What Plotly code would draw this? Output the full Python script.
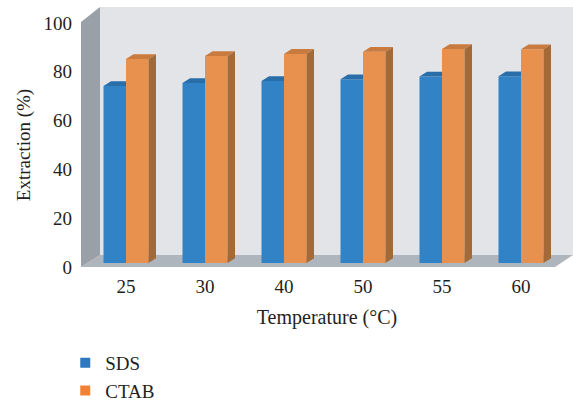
import plotly.graph_objects as go

# ---- data ----
temperatures = ["25", "30", "40", "50", "55", "60"]
sds = [72.5, 73.8, 74.6, 75.3, 76.4, 76.5]
ctab = [83.6, 84.8, 85.7, 86.6, 87.7, 87.6]
y_ticks = [0, 20, 40, 60, 80, 100]

# ---- geometry (pixels of the 573x402 canvas) ----
W, H = 573, 402
L, R, T, B = 81, 0, 23, 135          # plot area: x 81..573, y 23..267
PW = W - L - R
PH = H - T - B
CAT_PX = 79.0                       # pixel width of one category
PX_PER_UNIT = PH / 100.0            # y pixels per value unit
x_min = -0.5
x_max = x_min + PW / CAT_PX

shift = 5.5 / CAT_PX                # bar plane offset to the right
bar_w = 22.5 / CAT_PX
ddx = 7.5 / CAT_PX                  # bar depth (x)
ddy = 4.8 / PX_PER_UNIT             # bar depth (y)
base0 = 4.0 / PX_PER_UNIT           # bar plane floor level

font_family = "Liberation Serif, Times New Roman, serif"
text_col = "#231f20"

c_sds_front, c_sds_top = "#3283c5", "#2a6ea9"
c_ctab_front, c_ctab_top, c_ctab_side = "#e8914f", "#c97b3f", "#a36a38"
c_sds_leg, c_ctab_leg = "#2e78c0", "#f28135"


def px2paper(px, py):
    return (px - L) / PW, (H - B - py) / PH


def poly_path(points):
    pts = [px2paper(x, y) for x, y in points]
    return "M" + " L".join(f"{a:.5f},{b:.5f}" for a, b in pts) + " Z"


centers = [i + shift for i in range(len(temperatures))]

fig = go.Figure()

# front faces (bars)
fig.add_trace(go.Bar(x=centers, y=sds, base=[base0] * len(sds), offset=-bar_w,
                     width=bar_w, marker=dict(color=c_sds_front, line=dict(width=0)),
                     name="SDS", showlegend=False))
fig.add_trace(go.Bar(x=centers, y=ctab, base=[base0] * len(ctab), offset=0,
                     width=bar_w, marker=dict(color=c_ctab_front, line=dict(width=0)),
                     name="CTAB", showlegend=False))

# 3D faces computed from the data
sx, sy = [], []
tx, ty = [], []
kx, ky = [], []
for c, v1, v2 in zip(centers, sds, ctab):
    x0, x1, x2 = c - bar_w, c, c + bar_w
    t1 = base0 + v1
    t2 = base0 + v2
    # SDS top (clipped by CTAB front)
    sx += [x0, x0 + ddx, x1, x1, x0, None]
    sy += [t1, t1 + ddy, t1 + ddy, t1, t1, None]
    # CTAB top
    tx += [x1, x1 + ddx, x2 + ddx, x2, x1, None]
    ty += [t2, t2 + ddy, t2 + ddy, t2, t2, None]
    # CTAB side
    kx += [x2, x2, x2 + ddx, x2 + ddx, x2, None]
    ky += [base0, t2, t2 + ddy, base0 + ddy, base0, None]

for xs, ys, col in [(sx, sy, c_sds_top), (tx, ty, c_ctab_top), (kx, ky, c_ctab_side)]:
    fig.add_trace(go.Scatter(x=xs, y=ys, mode="lines", fill="toself", fillcolor=col,
                             line=dict(width=0, color=col), hoverinfo="skip",
                             showlegend=False, connectgaps=False))

# legend entries
fig.add_trace(go.Scatter(x=[None], y=[None], mode="markers", name="SDS", legendgroup="a",
                         marker=dict(symbol="square", size=10, color=c_sds_leg)))
fig.add_trace(go.Scatter(x=[None], y=[None], mode="markers", name="CTAB", legendgroup="b",
                         marker=dict(symbol="square", size=10, color=c_ctab_leg)))

# walls and floor
shapes = [
    dict(type="path", xref="paper", yref="paper", layer="below",
         path=poly_path([(100, 7), (573, 7), (573, 255), (100, 255)]),
         fillcolor="#e2e4e8", line=dict(width=0)),
    dict(type="path", xref="paper", yref="paper", layer="below",
         path=poly_path([(81, 267), (100, 255), (573, 255), (555, 267)]),
         fillcolor="#afb5bc", line=dict(width=0)),
    dict(type="path", xref="paper", yref="paper", layer="below",
         path=poly_path([(81, 22), (100, 7), (100, 255), (81, 267)]),
         fillcolor="#9aa0a7", line=dict(width=0)),
]

fig.update_layout(
    width=W, height=H,
    margin=dict(l=L, r=R, t=T, b=B, pad=0, autoexpand=False),
    paper_bgcolor="white", plot_bgcolor="rgba(0,0,0,0)",
    barmode="overlay",
    shapes=shapes,
    font=dict(family=font_family, size=19, color=text_col),
    showlegend=True,
    legend=dict(x=-0.032, y=-0.315, xanchor="left", yanchor="top",
                orientation="v", tracegroupgap=0,
                font=dict(family=font_family, size=19, color=text_col),
                bgcolor="rgba(0,0,0,0)", itemwidth=30),
    xaxis=dict(range=[x_min, x_max], tickmode="array", tickvals=centers,
               ticktext=temperatures, showgrid=False, zeroline=False,
               showline=False, ticks="", ticklabelstandoff=6,
               title=dict(text="Temperature (°C)", standoff=13,
                          font=dict(size=20))),
    yaxis=dict(range=[0, 100], tickmode="array", tickvals=y_ticks,
               showgrid=False, zeroline=False, showline=False, ticks="",
               ticklabelstandoff=8,
               title=dict(text="Extraction (%)", standoff=7,
                          font=dict(size=19))),
)

fig.write_html("out.html")
